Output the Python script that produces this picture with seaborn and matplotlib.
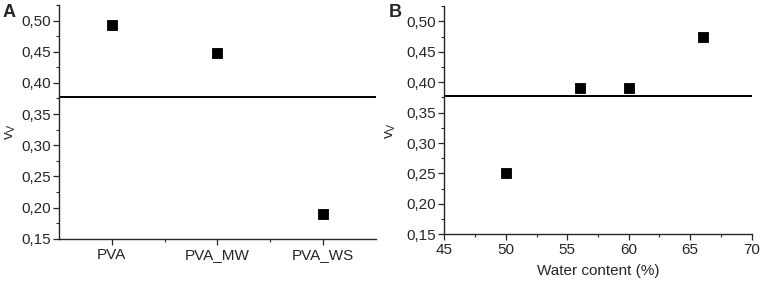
import matplotlib
matplotlib.use('Agg')
import matplotlib.pyplot as plt
import matplotlib.ticker as mticker
import pandas as pd
import seaborn as sns

# Panel A - sample type
samples = ['PVA', 'PVA_MW', 'PVA_WS']
vv_samples = [0.493, 0.448, 0.189]

# Panel B - water content
water_content = [50, 56, 60, 66]
vv_water = [0.251, 0.391, 0.391, 0.474]

threshold = 0.377
y_ticks = [0.15, 0.20, 0.25, 0.30, 0.35, 0.40, 0.45, 0.50]

sns.set_style('ticks')
plt.rcParams['font.family'] = ['Liberation Sans', 'DejaVu Sans']
plt.rcParams['mathtext.fontset'] = 'custom'
plt.rcParams['mathtext.rm'] = 'Liberation Sans'
plt.rcParams['mathtext.it'] = 'Liberation Sans'
plt.rcParams['font.size'] = 11

fig = plt.figure(figsize=(7.65, 2.84), dpi=100)
ax_a = fig.add_axes([0.0771, 0.1595, 0.4144, 0.823])
ax_b = fig.add_axes([0.5808, 0.175, 0.4018, 0.803])

df_a = pd.DataFrame({'sample': samples, 'vv': vv_samples})
df_b = pd.DataFrame({'water': water_content, 'vv': vv_water})

sns.scatterplot(data=df_a, x='sample', y='vv', marker='s', s=60, color='black',
                edgecolor='black', ax=ax_a, zorder=3)
sns.scatterplot(data=df_b, x='water', y='vv', marker='s', s=60, color='black',
                edgecolor='black', ax=ax_b, zorder=3)

ax_a.set_xlim(-0.5, 2.5)
ax_a.xaxis.set_minor_locator(mticker.FixedLocator([0.5, 1.5]))
ax_b.set_xlim(45, 70)
ax_b.set_xticks([45, 50, 55, 60, 65, 70])
ax_b.xaxis.set_minor_locator(mticker.MultipleLocator(2.5))

fmt = mticker.FuncFormatter(lambda v, p: f'{v:.2f}'.replace('.', ','))
for ax in (ax_a, ax_b):
    ax.axhline(threshold, color='black', lw=1.4, zorder=2)
    ax.set_ylim(0.15, 0.525)
    ax.set_yticks(y_ticks)
    ax.yaxis.set_major_formatter(fmt)
    ax.yaxis.set_minor_locator(mticker.MultipleLocator(0.025))
    ax.tick_params(which='major', length=4, width=0.9, direction='out', labelsize=11, pad=2)
    ax.tick_params(which='minor', length=2.5, width=0.8, direction='out')
    for s in ('left', 'bottom'):
        ax.spines[s].set_linewidth(1.0)
    for s in ('top', 'right'):
        ax.spines[s].set_visible(False)
    ax.set_ylabel(r'$v_V$', fontsize=11)

ax_a.set_xlabel('')
ax_a.tick_params(axis='x', which='major', pad=3)
ax_b.set_xlabel('Water content (%)', fontsize=11, labelpad=5)
ax_a.yaxis.set_label_coords(-0.129, 0.46)
ax_b.yaxis.set_label_coords(-0.151, 0.455)

fig.text(3 / 765, 1 - 4 / 284, 'A', fontsize=13, fontweight='bold', va='top', ha='left')
fig.text(389 / 765, 1 - 4 / 284, 'B', fontsize=13, fontweight='bold', va='top', ha='left')

fig.savefig('out.png', dpi=100)
